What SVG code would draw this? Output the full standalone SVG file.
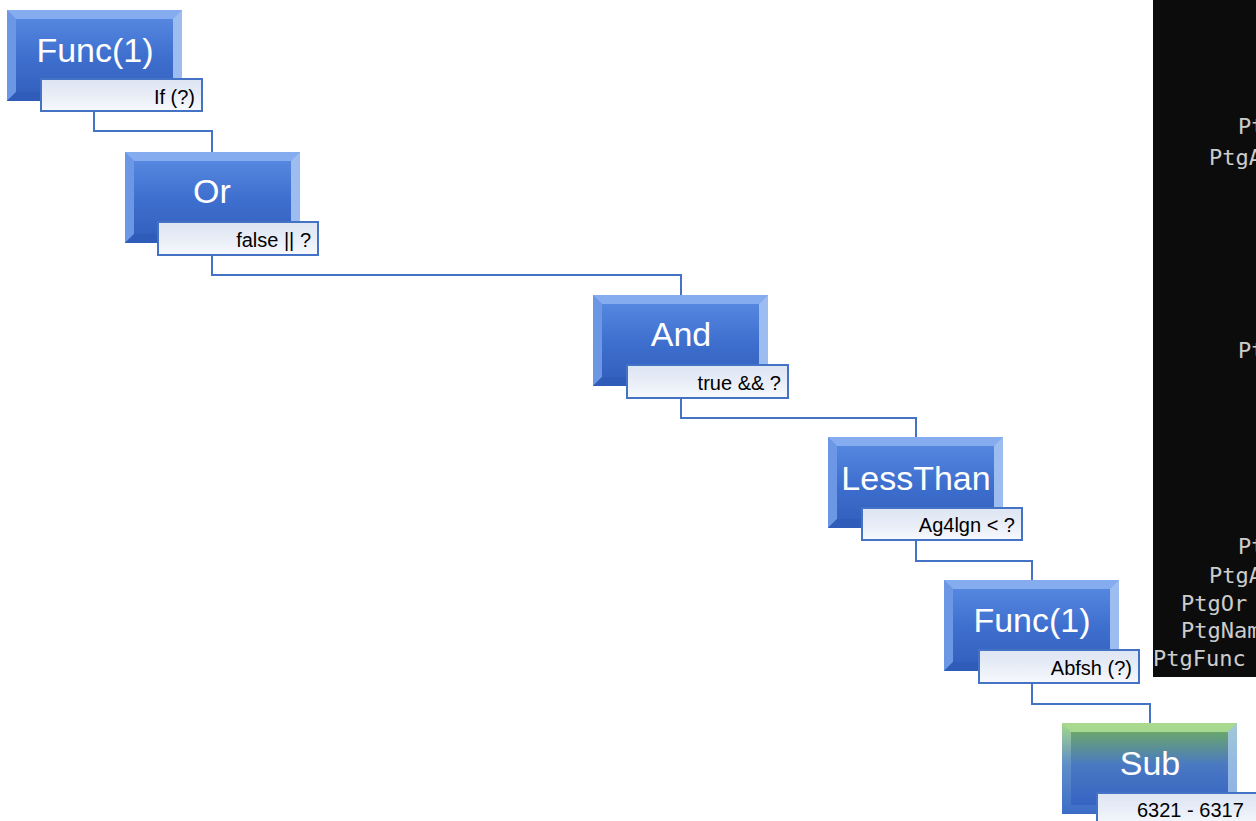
<svg xmlns="http://www.w3.org/2000/svg" width="1256" height="821" viewBox="0 0 1256 821">
<defs>
<linearGradient id="gOuter" x1="0" y1="0" x2="0" y2="1">
<stop offset="0" stop-color="#7ba3ea"/>
<stop offset="1" stop-color="#3d6cc8"/>
</linearGradient>
<linearGradient id="gFace" x1="0" y1="0" x2="0" y2="1">
<stop offset="0" stop-color="#5587e0"/>
<stop offset="0.5" stop-color="#3f70cf"/>
<stop offset="1" stop-color="#3461c0"/>
</linearGradient>
<linearGradient id="gOuterG" x1="0" y1="0" x2="0" y2="1">
<stop offset="0" stop-color="#a6d88a"/>
<stop offset="0.45" stop-color="#5f8fc8"/>
<stop offset="1" stop-color="#3d6cc8"/>
</linearGradient>
<linearGradient id="gFaceG" x1="0" y1="0" x2="0" y2="1">
<stop offset="0" stop-color="#6aa66e"/>
<stop offset="0.45" stop-color="#4a79c2"/>
<stop offset="1" stop-color="#3663c2"/>
</linearGradient>
<linearGradient id="gLabel" x1="0" y1="0" x2="0" y2="1">
<stop offset="0" stop-color="#dde5f3"/>
<stop offset="0.5" stop-color="#e8edf7"/>
<stop offset="1" stop-color="#f7f9fc"/>
</linearGradient>
<g id="box">
<rect x="0" y="0" width="175" height="91" fill="url(#gOuter)"/>
<polygon points="0,0 175,0 166,9 9,9" fill="#86adee" opacity="0.9"/>
<polygon points="0,0 9,9 9,82 0,91" fill="#6b97e4"/>
<polygon points="175,0 175,91 166,82 166,9" fill="#9dbcf0"/>
<polygon points="0,91 175,91 166,82 9,82" fill="#2f5cb8"/>
<rect x="9" y="9" width="157" height="73" fill="url(#gFace)"/>
</g>
<g id="boxG">
<rect x="0" y="0" width="175" height="91" fill="url(#gOuterG)"/>
<polygon points="0,0 175,0 166,9 9,9" fill="#a9d98e" opacity="0.9"/>
<polygon points="175,0 175,91 166,82 166,9" fill="#a3c4ea" opacity="0.8"/>
<rect x="9" y="9" width="157" height="73" fill="url(#gFaceG)"/>
</g>
</defs>
<style>
.main{font-family:"Liberation Sans",Arial,sans-serif;font-size:34px;fill:#ffffff;text-anchor:middle}
.lab{font-family:"Liberation Sans",Arial,sans-serif;font-size:20px;fill:#000000;text-anchor:end}
.lbox{fill:url(#gLabel);stroke:#4472c4;stroke-width:2}
.conn{fill:none;stroke:#4472c4;stroke-width:2}
.con{font-family:"DejaVu Sans Mono","Liberation Mono",monospace;font-size:22px;fill:#cccccc}
</style>
<rect x="0" y="0" width="1256" height="821" fill="#ffffff"/>

<g id="console">
<rect x="1153" y="0" width="103" height="677" fill="#0c0c0c"/>
<text class="con" x="1238" y="134">Pt</text>
<text class="con" x="1209" y="165">PtgA</text>
<text class="con" x="1238" y="358">Pt</text>
<text class="con" x="1238" y="554">Pt</text>
<text class="con" x="1209" y="583">PtgA</text>
<text class="con" x="1181" y="611">PtgOr</text>
<text class="con" x="1181" y="638">PtgNam</text>
<text class="con" x="1153" y="666">PtgFunc</text>
</g>

<g id="connectors">
<polyline class="conn" points="94,111 94,131 212,131 212,152"/>
<polyline class="conn" points="212,255 212,275 681,275 681,295"/>
<polyline class="conn" points="681,398 681,418 916,418 916,437"/>
<polyline class="conn" points="916,540 916,561 1032,561 1032,580"/>
<polyline class="conn" points="1032,683 1032,704 1150,704 1150,723"/>
</g>

<g id="n1">
<use href="#box" x="7" y="10"/>
<text class="main" x="95" y="62">Func(1)</text>
<rect class="lbox" x="41" y="79" width="161" height="32"/>
<text class="lab" x="195" y="104">If (?)</text>
</g>

<g id="n2">
<use href="#box" x="125" y="152"/>
<text class="main" x="212" y="203">Or</text>
<rect class="lbox" x="158" y="222" width="160" height="33"/>
<text class="lab" x="311" y="247">false || ?</text>
</g>

<g id="n3">
<use href="#box" x="593" y="295"/>
<text class="main" x="681" y="346">And</text>
<rect class="lbox" x="627" y="365" width="161" height="33"/>
<text class="lab" x="781" y="390">true &amp;&amp; ?</text>
</g>

<g id="n4">
<use href="#box" x="828" y="437"/>
<text class="main" x="916" y="490">LessThan</text>
<rect class="lbox" x="862" y="508" width="160" height="32"/>
<text class="lab" x="1015" y="532">Ag4lgn &lt; ?</text>
</g>

<g id="n5">
<use href="#box" x="944" y="580"/>
<text class="main" x="1032" y="632">Func(1)</text>
<rect class="lbox" x="979" y="650" width="160" height="33"/>
<text class="lab" x="1132" y="675">Abfsh (?)</text>
</g>

<g id="n6">
<use href="#boxG" x="1062" y="723"/>
<text class="main" x="1150" y="775">Sub</text>
<rect class="lbox" x="1097" y="793" width="170" height="33"/>
<text class="lab" x="1137" y="817" style="text-anchor:start">6321 - 6317</text>
</g>
</svg>
